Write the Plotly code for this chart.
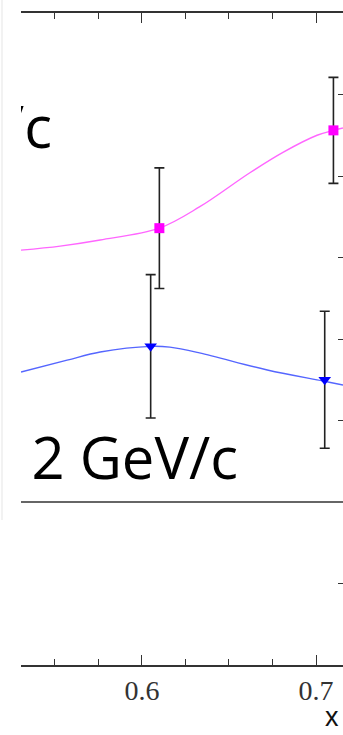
import plotly.graph_objects as go

# Measured points with symmetric uncertainties
mag_x = [0.610, 0.710]
mag_y = [0.436, 0.556]
mag_err = [0.074, 0.065]

blue_x = [0.605, 0.705]
blue_y = [0.291, 0.250]
blue_err = [0.088, 0.084]

# Model curves (sampled points, drawn as splines)
mag_curve_x = [0.5305, 0.553, 0.576, 0.610, 0.633, 0.662, 0.681, 0.7006, 0.710, 0.7155]
mag_curve_y = [0.409, 0.414, 0.4215, 0.436, 0.462, 0.504, 0.529, 0.550, 0.556, 0.559]
blue_curve_x = [0.5305, 0.557, 0.576, 0.605, 0.616, 0.633, 0.672, 0.704, 0.7155]
blue_curve_y = [0.2595, 0.274, 0.284, 0.291, 0.290, 0.283, 0.262, 0.2485, 0.2436]

# Axis settings
x_range = [0.5305, 0.7155]
x_tickvals = [0.6, 0.7]
x_ticktext = ["0.6", "0.7"]
upper_y_range = [0.1, 0.7]
lower_y_range = [-0.1, 0.1]

W, H = 343, 735
left_px = 21
upper_top_px, mid_px, bottom_px = 13, 502, 665
axis_col = "#333333"

fig = go.Figure()

fig.add_trace(go.Scatter(x=mag_curve_x, y=mag_curve_y, mode="lines",
                         line=dict(color="#ff66ff", width=1.4, shape="spline"),
                         xaxis="x", yaxis="y", showlegend=False))
fig.add_trace(go.Scatter(x=blue_curve_x, y=blue_curve_y, mode="lines",
                         line=dict(color="#5566ff", width=1.4, shape="spline"),
                         xaxis="x", yaxis="y", showlegend=False))

fig.add_trace(go.Scatter(x=mag_x, y=mag_y, mode="markers",
                         marker=dict(symbol="square", size=10, color="#ff00ff"),
                         error_y=dict(type="data", array=mag_err, color="#222222",
                                      thickness=1.6, width=5),
                         xaxis="x", yaxis="y", showlegend=False))
fig.add_trace(go.Scatter(x=blue_x, y=blue_y, mode="markers",
                         marker=dict(symbol="triangle-down", size=11, color="#0000ff"),
                         error_y=dict(type="data", array=blue_err, color="#222222",
                                      thickness=1.6, width=5),
                         xaxis="x", yaxis="y", showlegend=False))

# Bin labels, clipped by the frame
label_font = dict(family="Open Sans", size=58, color="black")
fig.add_trace(go.Scatter(x=[0.5483], y=[0.5171], mode="text", text=["GeV/c"],
                         textposition="top left", textfont=label_font,
                         cliponaxis=True, xaxis="x", yaxis="y", showlegend=False))
fig.add_trace(go.Scatter(x=[0.5365], y=[0.1110], mode="text", text=["2 GeV/c"],
                         textposition="top right", textfont=label_font,
                         cliponaxis=True, xaxis="x", yaxis="y", showlegend=False))

# Empty lower panel
fig.add_trace(go.Scatter(x=[], y=[], xaxis="x2", yaxis="y2", showlegend=False))

x_dom = [left_px / W, 1.0]
upper_dom = [(H - mid_px) / H, (H - upper_top_px) / H]
lower_dom = [(H - bottom_px) / H, (H - mid_px) / H]

common_x = dict(range=x_range, domain=x_dom, showgrid=False, zeroline=False,
                showline=True, linecolor=axis_col, linewidth=1.6,
                ticks="inside", ticklen=10, tickwidth=1.4, tickcolor=axis_col,
                tickvals=x_tickvals,
                minor=dict(dtick=0.025, tick0=0, ticks="inside", ticklen=6,
                           tickwidth=1.4, tickcolor=axis_col))
common_y = dict(side="right", showgrid=False, zeroline=False, showline=False,
                ticks="inside", ticklen=5, tickwidth=1.4, tickcolor=axis_col,
                dtick=0.1, tick0=0, showticklabels=False)

fig.update_layout(
    width=W, height=H,
    margin=dict(l=0, r=0, t=0, b=0),
    paper_bgcolor="white", plot_bgcolor="white",
    xaxis=dict(common_x, anchor="y", side="top", showticklabels=False),
    yaxis=dict(common_y, range=upper_y_range, domain=upper_dom, anchor="x"),
    xaxis2=dict(common_x, anchor="y2", side="bottom", ticktext=x_ticktext,
                showticklabels=True,
                tickfont=dict(family="Liberation Serif", size=28, color="#333333")),
    yaxis2=dict(common_y, range=lower_y_range, domain=lower_dom, anchor="x2"),
    shapes=[
        dict(type="line", xref="paper", yref="paper", x0=x_dom[0], x1=1.0,
             y0=upper_dom[0], y1=upper_dom[0],
             line=dict(color=axis_col, width=1.6)),
        dict(type="line", xref="paper", yref="paper", x0=2 / W, x1=2 / W,
             y0=(H - 520) / H, y1=1.0, line=dict(color="#f2f2f2", width=2)),
    ],
    annotations=[
        dict(text="x", xref="paper", yref="paper", x=341 / W, y=(H - 734) / H,
             xanchor="right", yanchor="bottom", showarrow=False,
             font=dict(family="Liberation Sans", size=27, color="#111111")),
    ],
)

fig.write_html("out.html")
